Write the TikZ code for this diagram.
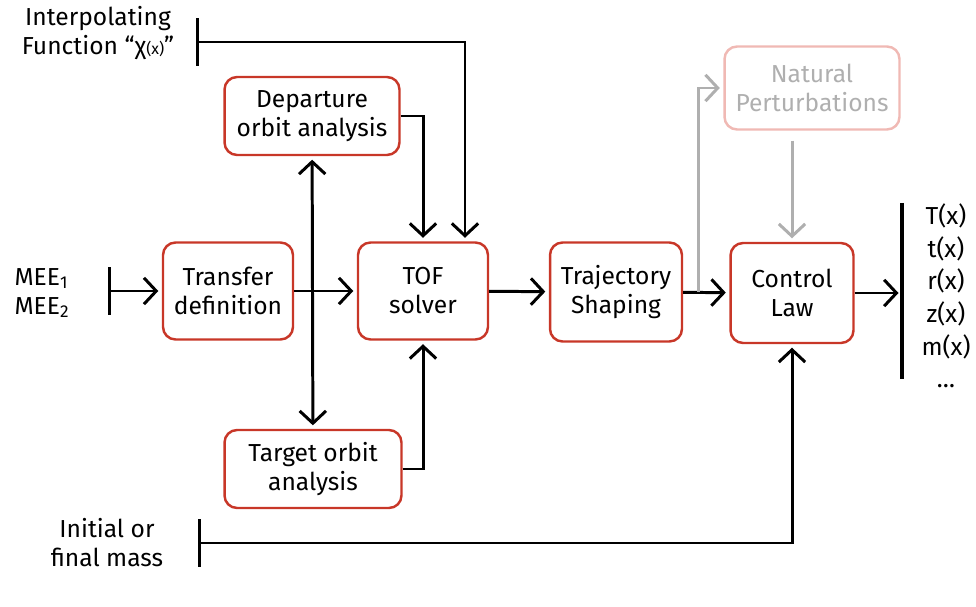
\documentclass[tikz,border=0pt]{standalone}
\usepackage{fontspec}
\setmainfont{Fira Sans}
\usetikzlibrary{arrows.meta}
\definecolor{boxred}{RGB}{200,55,40}
\definecolor{fadered}{RGB}{240,185,180}
\definecolor{fadegray}{RGB}{175,175,175}
\begin{document}
\begin{tikzpicture}[x=0.02cm,y=-0.02cm,line width=1.7pt,shorten >=2pt,>={Straight Barb[length=7pt,width=15pt]}]
\tikzstyle{block}=[rectangle,rounded corners=0.25cm,draw=boxred,line width=1.4pt,align=center,font=\fontsize{14}{16.5}\selectfont]
\tikzstyle{faded}=[block,draw=fadered,text=fadegray]
\tikzstyle{txt}=[align=center,font=\fontsize{14}{16.5}\selectfont]
\tikzstyle{bar}=[{Bar[width=27pt]}->]
\useasboundingbox (0,0) rectangle (976,607);

\node[block,minimum width=2.6cm,minimum height=1.94cm](tdef) at (228,291) {Transfer\\definition};
\node[block,minimum width=2.6cm,minimum height=1.94cm](tof) at (423,291) {TOF\\solver};
\node[block,minimum width=2.64cm,minimum height=1.98cm](traj) at (616,292) {Trajectory\\Shaping};
\node[block,minimum width=2.46cm,minimum height=2cm](ctrl) at (792,293) {Control\\Law};
\node[block,minimum width=3.5cm,minimum height=1.56cm](dep) at (312,116) {Departure\\orbit analysis};
\node[block,minimum width=3.54cm,minimum height=1.56cm](tgt) at (313,469) {Target orbit\\analysis};
\node[faded,minimum width=3.5cm,minimum height=1.66cm](nat) at (812,88) {Natural\\Perturbations};

\node[txt](interp) at (98,33) {Interpolating\\Function “χ{\small(x)}”};
\node[txt,align=left](mee) at (42,293) {MEE\textsubscript{1}\\MEE\textsubscript{2}};
\node[txt](mass) at (107,543) {Initial or\\final mass};
\node[txt,font=\fontsize{14}{18.6}\selectfont](outs) at (946,296) {T(x)\\t(x)\\r(x)\\z(x)\\m(x)\\\dots};

\coordinate (ifbar) at (196,42);
\coordinate (meebar) at (108,291);
\coordinate (massbar) at (198,543);
\coordinate (outbar) at (902,293);

\draw[bar] (meebar) -- (tdef);
\draw[->] (tdef) -- (tof);
\draw[<->,shorten <=2pt] (dep) -- (tgt);
\draw[->] (dep.east) -| (tof.north);
\draw[bar] (ifbar) -| ([xshift=0.84cm]tof.north);
\draw[->] (tgt.east) -| (tof.south);
\draw[->] (tof) -- (traj);
\draw[->] (traj) -- (ctrl);
\draw[->,fadegray] ([xshift=0.3cm]traj.east) |- (nat.west);
\draw[->,fadegray,shorten <=0.2cm] (nat.south -| ctrl.north) -- (ctrl.north);
\draw[->] (ctrl) -- (outbar);
\draw[line width=1.8pt] (902,203) -- (902,383);
\draw[bar] (massbar) -| (ctrl.south);
\end{tikzpicture}
\end{document}
